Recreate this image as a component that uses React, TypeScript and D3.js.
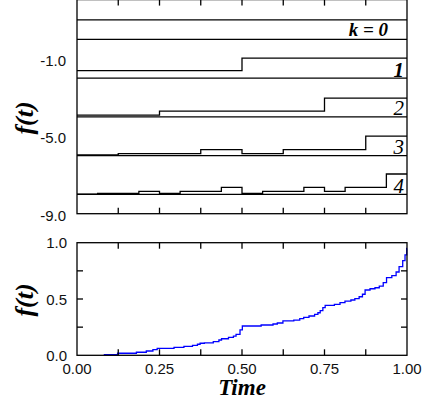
import { useEffect, useRef } from 'react';

import * as d3 from 'd3';

const width = 422;
const height = 396;

// upper panel: step levels of each cascade stage
const stages = [0, 1, 2, 3, 4];
const stageLabels = ['k = 0', '1', '2', '3', '4'];
const stageValues = [
    [1.0],
    [0.38, 1.03],
    [0.09, 0.29, 0.29, 0.97],
    [0.04, 0.1, 0.1, 0.31, 0.1, 0.31, 0.31, 1.0],
    [0.01, 0.05, 0.05, 0.155, 0.05, 0.155, 0.155, 0.36, 0.05, 0.155, 0.155, 0.36, 0.155, 0.36, 0.36, 1.05]
];
const topTicks = [-1, -5, -9];

// lower panel: cumulative curve
const cumTimes = [
    0.081, 0.123, 0.18, 0.21, 0.23, 0.243, 0.294, 0.324, 0.35, 0.365, 0.373, 0.386, 0.413, 0.43, 0.438, 0.459,
    0.474, 0.482, 0.494, 0.501, 0.558, 0.594, 0.607, 0.624, 0.657, 0.675, 0.687, 0.703, 0.72, 0.73, 0.737, 0.745,
    0.752, 0.78, 0.797, 0.812, 0.83, 0.842, 0.855, 0.865, 0.873, 0.888, 0.903, 0.916, 0.928, 0.938, 0.954, 0.967,
    0.976, 0.987, 0.994, 0.999, 1.0
];
const cumValues = [
    0.005, 0.018, 0.027, 0.038, 0.05, 0.062, 0.071, 0.08, 0.089, 0.098, 0.107, 0.11, 0.121, 0.136, 0.147, 0.16,
    0.171, 0.186, 0.225, 0.26, 0.269, 0.278, 0.287, 0.305, 0.313, 0.325, 0.337, 0.349, 0.364, 0.378, 0.396, 0.423,
    0.444, 0.453, 0.467, 0.482, 0.491, 0.503, 0.52, 0.542, 0.58, 0.591, 0.6, 0.615, 0.645, 0.689, 0.707, 0.74,
    0.787, 0.84, 0.891, 0.95, 0.95
];
const cumTicks = [0, 0.5, 1];
const cumMinorTicks = [0.25, 0.5, 0.75];
const timeTicks = [0, 0.25, 0.5, 0.75, 1];
const timeMinorTicks = [0.125, 0.25, 0.375, 0.5, 0.625, 0.75, 0.875];

const sans = '"Liberation Sans", Arial, Helvetica, sans-serif';
const serif = '"Liberation Serif", "Times New Roman", Times, serif';

export default function App() {
    const holder = useRef<HTMLDivElement>(null);

    useEffect(() => {
        const root = d3.select(holder.current);
        root.selectAll('*').remove();

        const svg = root.append('svg').attr('width', width).attr('height', height).style('display', 'block');

        const x = d3.scaleLinear().domain([0, 1]).range([77, 407]);
        const yTop = d3.scaleLinear().domain([-9, 2.05]).range([213.7, -0.4]);
        const yBot = d3.scaleLinear().domain([0, 1]).range([355.3, 242.7]);

        const tickLen = 6;

        // ---- upper panel
        const top = svg.append('g');
        const [t0, t1] = yTop.range();

        // baselines of each stage
        top.selectAll('line.base')
            .data(stages)
            .join('line')
            .attr('x1', x(0))
            .attr('x2', x(1))
            .attr('y1', (k) => yTop(-2 * k))
            .attr('y2', (k) => yTop(-2 * k))
            .attr('stroke', '#000')
            .attr('stroke-width', 1.3);

        const step = d3
            .line<[number, number]>()
            .x((d) => x(d[0]))
            .y((d) => yTop(d[1]))
            .curve(d3.curveStepAfter);

        top.selectAll('path.stage')
            .data(stages)
            .join('path')
            .attr('d', (k) => {
                const vals = stageValues[k];
                const n = vals.length;
                const pts: [number, number][] = vals.map((v, i) => [i / n, v - 2 * k]);
                pts.push([1, vals[n - 1] - 2 * k]);
                return step(pts);
            })
            .attr('fill', 'none')
            .attr('stroke', '#000')
            .attr('stroke-width', 1.3);

        // frame
        top.append('rect')
            .attr('x', x(0))
            .attr('y', t1)
            .attr('width', x(1) - x(0))
            .attr('height', t0 - t1)
            .attr('fill', 'none')
            .attr('stroke', '#000')
            .attr('stroke-width', 1.3);

        top.selectAll('line.tt')
            .data(timeMinorTicks)
            .join('line')
            .attr('x1', (d) => x(d))
            .attr('x2', (d) => x(d))
            .attr('y1', t1)
            .attr('y2', t1 + tickLen)
            .attr('stroke', '#000')
            .attr('stroke-width', 1.3);
        top.selectAll('line.tb')
            .data(timeMinorTicks)
            .join('line')
            .attr('x1', (d) => x(d))
            .attr('x2', (d) => x(d))
            .attr('y1', t0)
            .attr('y2', t0 - tickLen)
            .attr('stroke', '#000')
            .attr('stroke-width', 1.3);

        top.selectAll('text.yl')
            .data(topTicks)
            .join('text')
            .attr('x', 66)
            .attr('y', (d) => yTop(d) + 7)
            .attr('text-anchor', 'end')
            .attr('font-family', sans)
            .attr('font-size', 15)
            .attr('fill', '#111')
            .text((d) => d.toFixed(1));

        top.selectAll('text.kl')
            .data(stages)
            .join('text')
            .attr('x', (k) => (k === 0 ? 388 : 404))
            .attr('y', (k) => yTop(-2 * k) - (k === 0 ? 3 : 1.5))
            .attr('text-anchor', 'end')
            .attr('font-family', serif)
            .attr('font-style', 'italic')
            .attr('font-weight', (k) => (k <= 1 ? 'bold' : 'normal'))
            .attr('font-size', (k) => (k === 0 ? 19 : 21))
            .attr('xml:space', 'preserve')
            .text((k) => stageLabels[k]);

        svg.append('text')
            .attr('transform', `translate(33, ${118}) rotate(-90)`)
            .attr('text-anchor', 'middle')
            .attr('font-family', serif)
            .attr('font-style', 'italic')
            .attr('font-weight', 'bold')
            .attr('font-size', 26)
            .text('f(t)');

        // ---- lower panel
        const bot = svg.append('g');
        const [b0, b1] = yBot.range();

        const cum = d3
            .line<number>()
            .x((_d, i) => x(cumTimes[i]))
            .y((d) => yBot(d))
            .curve(d3.curveStepAfter);

        bot.append('path')
            .attr('d', cum(cumValues))
            .attr('fill', 'none')
            .attr('stroke', '#0000ff')
            .attr('stroke-width', 1.3);

        bot.append('rect')
            .attr('x', x(0))
            .attr('y', b1)
            .attr('width', x(1) - x(0))
            .attr('height', b0 - b1)
            .attr('fill', 'none')
            .attr('stroke', '#000')
            .attr('stroke-width', 1.3);

        bot.selectAll('line.bt')
            .data(timeMinorTicks)
            .join('line')
            .attr('x1', (d) => x(d))
            .attr('x2', (d) => x(d))
            .attr('y1', b1)
            .attr('y2', b1 + tickLen)
            .attr('stroke', '#000')
            .attr('stroke-width', 1.3);
        bot.selectAll('line.bb')
            .data(timeMinorTicks)
            .join('line')
            .attr('x1', (d) => x(d))
            .attr('x2', (d) => x(d))
            .attr('y1', b0)
            .attr('y2', b0 - tickLen)
            .attr('stroke', '#000')
            .attr('stroke-width', 1.3);
        bot.selectAll('line.bl')
            .data(cumMinorTicks)
            .join('line')
            .attr('x1', x(0))
            .attr('x2', x(0) + tickLen)
            .attr('y1', (d) => yBot(d))
            .attr('y2', (d) => yBot(d))
            .attr('stroke', '#000')
            .attr('stroke-width', 1.3);
        bot.selectAll('line.br')
            .data(cumMinorTicks)
            .join('line')
            .attr('x1', x(1))
            .attr('x2', x(1) - tickLen)
            .attr('y1', (d) => yBot(d))
            .attr('y2', (d) => yBot(d))
            .attr('stroke', '#000')
            .attr('stroke-width', 1.3);

        bot.selectAll('text.yl')
            .data(cumTicks)
            .join('text')
            .attr('x', 67)
            .attr('y', (d) => yBot(d) + 5.5)
            .attr('text-anchor', 'end')
            .attr('font-family', sans)
            .attr('font-size', 15)
            .attr('fill', '#111')
            .text((d) => d.toFixed(1));

        bot.selectAll('text.xl')
            .data(timeTicks)
            .join('text')
            .attr('x', (d) => x(d))
            .attr('y', 374)
            .attr('text-anchor', 'middle')
            .attr('font-family', sans)
            .attr('font-size', 15)
            .attr('fill', '#111')
            .text((d) => d.toFixed(2));

        svg.append('text')
            .attr('transform', `translate(33, ${300}) rotate(-90)`)
            .attr('text-anchor', 'middle')
            .attr('font-family', serif)
            .attr('font-style', 'italic')
            .attr('font-weight', 'bold')
            .attr('font-size', 26)
            .text('f(t)');

        svg.append('text')
            .attr('x', x(0.5))
            .attr('y', 395)
            .attr('text-anchor', 'middle')
            .attr('font-family', serif)
            .attr('font-style', 'italic')
            .attr('font-weight', 'bold')
            .attr('font-size', 23)
            .text('Time');
    }, []);

    return <div ref={holder} style={{ position: 'absolute', left: 0, top: 0, background: '#fff' }} />;
}
